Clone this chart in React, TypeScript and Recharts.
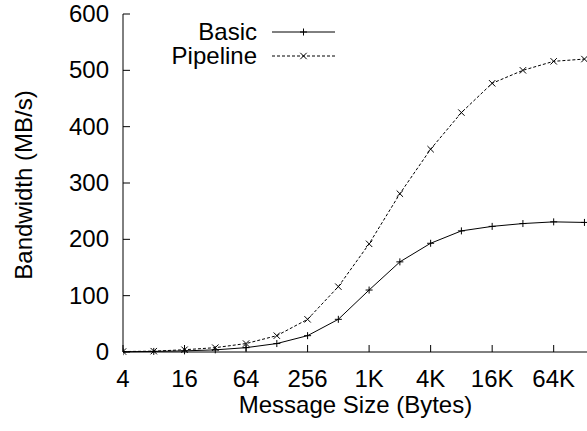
import { Legend, Line, LineChart, XAxis, YAxis } from "recharts";

// message sizes in bytes (log2 axis)
const SIZES = [4, 8, 16, 32, 64, 128, 256, 512, 1024, 2048, 4096, 8192, 16384, 32768, 65536, 131072];
const BASIC = [0.5, 1, 2, 3.8, 7.7, 15, 29, 58, 110, 160, 193, 215, 223, 228, 231, 230];
const PIPELINE = [0.8, 1.5, 4, 7.7, 15, 29, 58, 116, 192, 281, 360, 425, 477, 500, 516, 520];

const X_TICKS = [4, 16, 64, 256, 1024, 4096, 16384, 65536];
const Y_TICKS = [0, 100, 200, 300, 400, 500, 600];

const data = SIZES.map((size, i) => ({ size, basic: BASIC[i], pipeline: PIPELINE[i] }));

const FONT = "'Liberation Sans', Arial, Helvetica, sans-serif";
const FS = 24;
const TICK_LEN = 7;

const fmtSize = (v: number) => (v >= 1024 ? `${v / 1024}K` : `${v}`);

function plusPath(cx: number, cy: number, r = 3.5) {
  return `M${cx - r},${cy}L${cx + r},${cy}M${cx},${cy - r}L${cx},${cy + r}`;
}
function crossPath(cx: number, cy: number, r = 3.2) {
  return `M${cx - r},${cy - r}L${cx + r},${cy + r}M${cx - r},${cy + r}L${cx + r},${cy - r}`;
}

const PlusDot = (p: any) => <path key={`b${p.index}`} d={plusPath(p.cx, p.cy)} stroke="#000" strokeWidth={1} fill="none" />;
const CrossDot = (p: any) => <path key={`p${p.index}`} d={crossPath(p.cx, p.cy)} stroke="#000" strokeWidth={1} fill="none" />;

const BottomTick = ({ x, y, payload }: any) => (
  <g>
    <line x1={x} x2={x} y1={y} y2={y - TICK_LEN} stroke="#000" />
    <text x={x} y={y + 35} textAnchor="middle" fontFamily={FONT} fontSize={FS} fill="#000">
      {fmtSize(payload.value)}
    </text>
  </g>
);
const TopTick = ({ x, y }: any) => <line x1={x} x2={x} y1={y} y2={y + TICK_LEN} stroke="#000" />;
const LeftTick = ({ x, y, payload }: any) => (
  <g>
    <line x1={x} x2={x + TICK_LEN} y1={y} y2={y} stroke="#000" />
    <text x={x - 14} y={y + 8} textAnchor="end" fontFamily={FONT} fontSize={FS} fill="#000">
      {payload.value}
    </text>
  </g>
);
const RightTick = ({ x, y }: any) => <line x1={x} x2={x - TICK_LEN} y1={y} y2={y} stroke="#000" />;

const YLabel = ({ viewBox }: any) => {
  const cx = 32;
  const cy = viewBox.y + viewBox.height / 2 + 2;
  return (
    <text x={cx} y={cy} transform={`rotate(-90, ${cx}, ${cy})`} textAnchor="middle" fontFamily={FONT} fontSize={FS} fill="#000">
      Bandwidth (MB/s)
    </text>
  );
};

const SERIES = [
  { name: "Basic", dash: undefined, dot: plusPath },
  { name: "Pipeline", dash: "3 2", dot: crossPath },
];

const LegendBox = () => (
  <svg width={360} height={70} style={{ position: "absolute", left: 0, top: 0 }}>
    {SERIES.map((s, i) => {
      const y = 32 + i * 24;
      return (
        <g key={s.name}>
          <text x={257} y={y + 8} textAnchor="end" fontFamily={FONT} fontSize={FS} fill="#000">
            {s.name}
          </text>
          <line x1={272} x2={335} y1={y} y2={y} stroke="#000" strokeDasharray={s.dash} />
          <path d={s.dot(303.5, y)} stroke="#000" fill="none" />
        </g>
      );
    })}
  </svg>
);

export default function App() {
  return (
    <div style={{ position: "absolute", left: 0, top: 0, width: 587, height: 431, overflow: "hidden", background: "#fff" }}>
      <LineChart width={590} height={431} data={data} margin={{ top: 14, right: 2, bottom: 0, left: 0 }}>
        <XAxis
          dataKey="size"
          type="number"
          scale="log"
          base={2}
          domain={[4, 142000]}
          allowDataOverflow
          ticks={X_TICKS}
          interval={0}
          height={79}
          tickSize={0}
          tickMargin={0}
          tickLine={false}
          tick={<BottomTick />}
          axisLine={{ stroke: "#000" }}
          label={{ value: "Message Size (Bytes)", position: "insideBottom", offset: 18, fontFamily: FONT, fontSize: FS, fill: "#000" }}
        />
        <XAxis
          xAxisId="top"
          orientation="top"
          dataKey="size"
          type="number"
          scale="log"
          base={2}
          domain={[4, 142000]}
          allowDataOverflow
          ticks={X_TICKS}
          interval={0}
          height={0}
          tickSize={0}
          tickMargin={0}
          tickLine={false}
          tick={<TopTick />}
          axisLine={{ stroke: "#000" }}
        />
        <YAxis
          domain={[0, 600]}
          ticks={Y_TICKS}
          interval={0}
          width={123}
          tickSize={0}
          tickMargin={0}
          tickLine={false}
          tick={<LeftTick />}
          axisLine={{ stroke: "#000" }}
          label={<YLabel />}
        />
        <YAxis
          yAxisId="right"
          orientation="right"
          domain={[0, 600]}
          ticks={Y_TICKS}
          interval={0}
          width={0}
          tickSize={0}
          tickMargin={0}
          tickLine={false}
          tick={<RightTick />}
          axisLine={{ stroke: "#000" }}
        />
        <Legend
          layout="vertical"
          align="center"
          verticalAlign="middle"
          content={<LegendBox />}
          wrapperStyle={{ left: 0, top: 0, width: 360, height: 70 }}
        />
        <Line
          dataKey="basic"
          name="Basic"
          stroke="#000"
          strokeWidth={1}
          dot={PlusDot}
          activeDot={false}
          isAnimationActive={false}
        />
        <Line
          dataKey="pipeline"
          name="Pipeline"
          stroke="#000"
          strokeWidth={1}
          strokeDasharray="3 2"
          dot={CrossDot}
          activeDot={false}
          isAnimationActive={false}
        />
      </LineChart>
    </div>
  );
}
